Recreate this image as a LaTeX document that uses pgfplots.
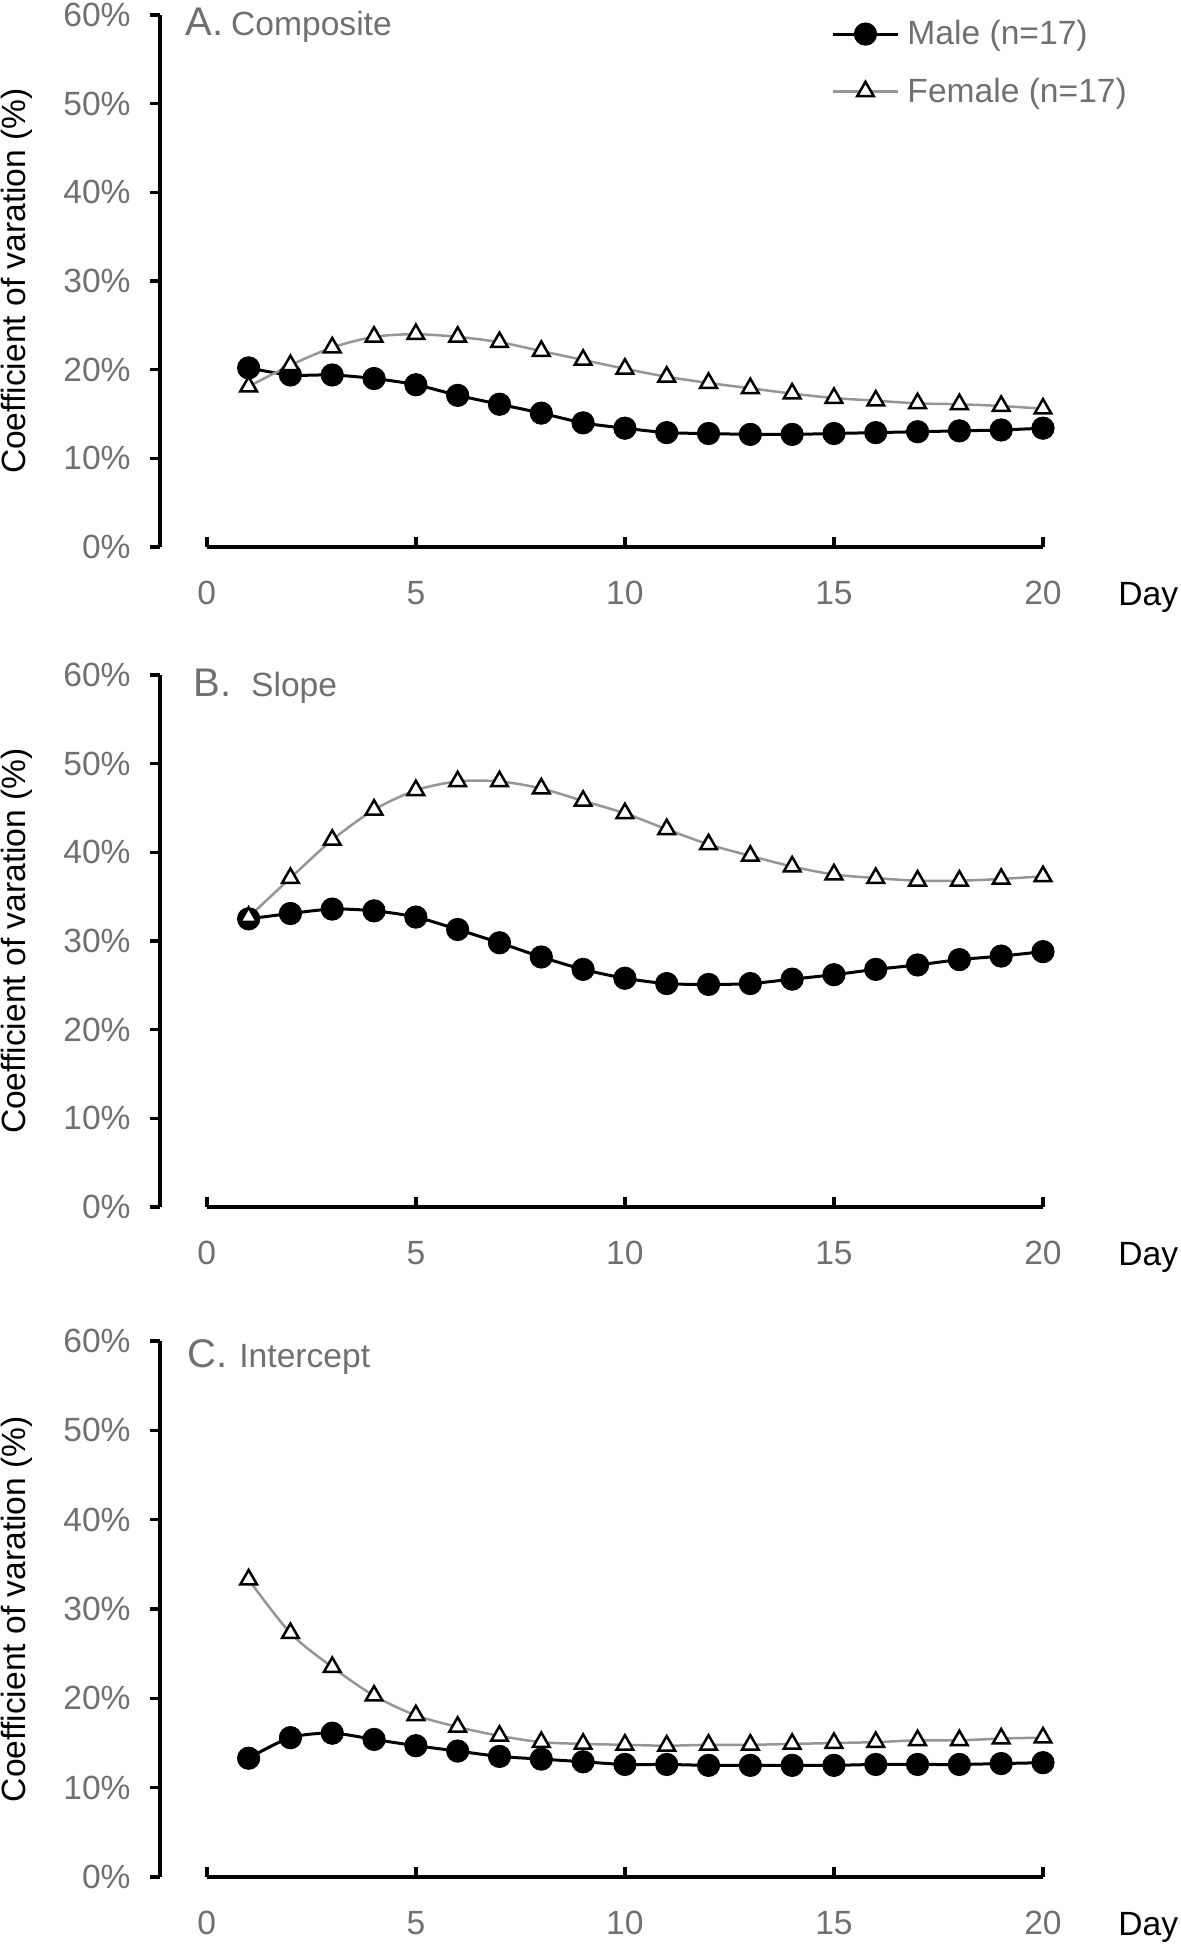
\documentclass[border=0pt]{standalone}
\usepackage{fontspec}
\setmainfont{Liberation Sans}
\usepackage{pgfplots}
\usepackage{pgfplotstable}
\pgfplotsset{compat=1.18}
\definecolor{txtgray}{RGB}{112,112,112}
\definecolor{fline}{RGB}{150,150,150}

\pgfplotstableread{
day male female
1  20.2 18.1
2  19.4 20.5
3  19.4 22.5
4  19.0 23.7
5  18.3 24.0
6  17.1 23.7
7  16.1 23.1
8  15.1 22.1
9  14.0 21.1
10 13.4 20.1
11 12.9 19.2
12 12.8 18.5
13 12.7 17.9
14 12.7 17.3
15 12.8 16.8
16 12.9 16.5
17 13.0 16.2
18 13.1 16.1
19 13.2 15.9
20 13.4 15.6
}\dataA

\pgfplotstableread{
day male female
1  32.5 32.7
2  33.1 37.1
3  33.6 41.4
4  33.4 44.8
5  32.7 47.0
6  31.3 48.0
7  29.8 48.0
8  28.2 47.2
9  26.8 45.8
10 25.8 44.4
11 25.2 42.6
12 25.1 40.9
13 25.2 39.6
14 25.7 38.4
15 26.2 37.5
16 26.8 37.1
17 27.3 36.8
18 27.9 36.8
19 28.3 37.0
20 28.8 37.3
}\dataB

\pgfplotstableread{
day male female
1  13.3 33.3
2  15.6 27.3
3  16.1 23.5
4  15.4 20.3
5  14.7 18.1
6  14.1 16.8
7  13.5 15.8
8  13.2 15.1
9  12.9 14.9
10 12.6 14.8
11 12.6 14.7
12 12.5 14.8
13 12.5 14.8
14 12.5 14.9
15 12.5 15.0
16 12.6 15.1
17 12.6 15.3
18 12.6 15.3
19 12.7 15.5
20 12.8 15.6
}\dataC

\newcommand{\basefont}{\fontsize{16.8}{20}\selectfont}

\pgfplotsset{
  cvpanel/.style={
    scale only axis, width=441.5pt, height=266pt,
    xmin=-1.12, xmax=20, ymin=0, ymax=60,
    axis y line*=left, axis x line*=bottom,
    x axis line style={draw=none},
    y axis line style={line width=1.75pt, black},
    xtick={0,5,10,15,20}, xticklabels={0,5,10,15,20},
    ytick={0,10,20,30,40,50,60},
    yticklabels={0\%,10\%,20\%,30\%,40\%,50\%,60\%},
    xtick align=inside, ytick align=outside,
    major tick length=5pt,
    tick style={line width=1.75pt, black},
    tick label style={font=\basefont, text=txtgray, inner sep=0pt},
    xticklabel style={anchor=north, yshift=-17pt},
    yticklabel style={anchor=east, xshift=-9.5pt},
    ylabel={Coefficient of varation (\%)},
    ylabel style={at={(axis description cs:-0.162,0.5)}, anchor=center, font=\basefont, text=black, inner sep=0pt},
    xlabel={Day},
    xlabel style={at={(axis description cs:1.085,0)}, anchor=base west, yshift=-29.2pt, inner sep=0pt, font=\basefont, text=black},
    clip=false,
  },
  malestyle/.style={black, line width=1.5pt, smooth, tension=0.5, mark=*, mark size=5.6pt, mark options={fill=black, line width=0.4pt}},
  femalestyle/.style={fline, line width=1.25pt, smooth, tension=0.5, mark=triangle*, mark size=4.8pt, mark options={fill=white, draw=black, line width=1.25pt}},
}

\begin{document}
\begin{tikzpicture}
\path[use as bounding box] (-80pt,-700.5pt) rectangle (510pt,273.5pt);

% Panel A
\begin{axis}[cvpanel, at={(0pt,0pt)},
  legend style={at={(axis description cs:0.760,0.9906)}, anchor=north west, draw=none, fill=none, inner sep=0pt,
    font=\basefont, text=txtgray, row sep=15pt, column sep=4pt, nodes={inner sep=0pt}},
  legend cell align=left,
  legend image code/.code={\draw[mark repeat=2,mark phase=2,#1] plot coordinates {(0pt,0pt) (16.25pt,0pt) (32.5pt,0pt)};},
]
\draw[line width=1.75pt, black] (axis cs:0,0) -- (axis cs:20,0);
\addplot[malestyle] table[x=day,y=male]{\dataA};
\addlegendentry{Male (n=17)}
\addplot[femalestyle] table[x=day,y=female]{\dataA};
\addlegendentry{Female (n=17)}
\node[anchor=base west, inner sep=0pt, text=txtgray, font=\basefont] at ([xshift=12.5pt,yshift=-10.5pt]axis description cs:0,1) {{\fontsize{20}{24}\selectfont A.}\hspace{4pt}Composite};
\end{axis}

% Panel B
\begin{axis}[cvpanel, at={(0pt,-330pt)}]
\draw[line width=1.75pt, black] (axis cs:0,0) -- (axis cs:20,0);
\addplot[malestyle] table[x=day,y=male]{\dataB};
\addplot[femalestyle] table[x=day,y=female]{\dataB};
\node[anchor=base west, inner sep=0pt, text=txtgray, font=\basefont] at ([xshift=16.5pt,yshift=-10.5pt]axis description cs:0,1) {{\fontsize{20}{24}\selectfont B.}\hspace{10pt}Slope};
\end{axis}

% Panel C
\begin{axis}[cvpanel, height=268pt, at={(0pt,-665pt)}]
\draw[line width=1.75pt, black] (axis cs:0,0) -- (axis cs:20,0);
\addplot[malestyle] table[x=day,y=male]{\dataC};
\addplot[femalestyle] table[x=day,y=female]{\dataC};
\node[anchor=base west, inner sep=0pt, text=txtgray, font=\basefont] at ([xshift=13.5pt,yshift=-13pt]axis description cs:0,1) {{\fontsize{20}{24}\selectfont C.}\hspace{6pt}Intercept};
\end{axis}
\end{tikzpicture}
\end{document}
